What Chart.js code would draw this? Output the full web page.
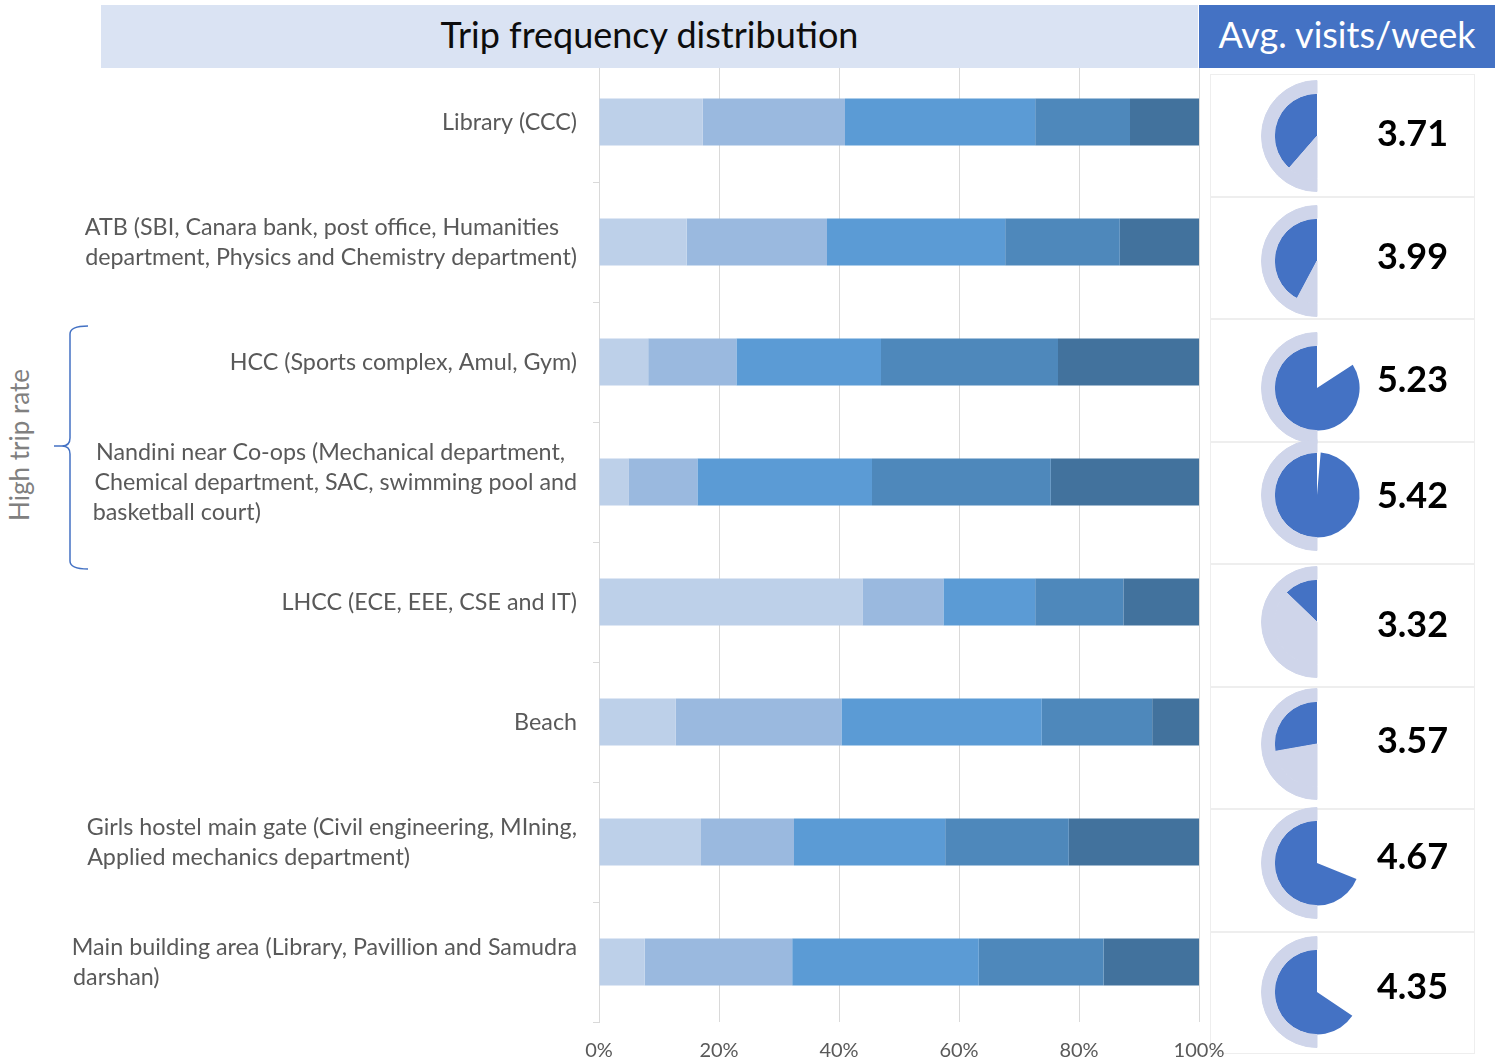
<!DOCTYPE html>
<html>
<head>
<meta charset="utf-8">
<script src="https://cdn.jsdelivr.net/npm/chart.js@4/dist/chart.umd.min.js"></script>
<style>
  html, body { margin:0; padding:0; background:#fff; }
  #page { position:relative; width:1495px; height:1064px; overflow:hidden; background:#fff; font-family: Lato, "Noto Sans", sans-serif; }
  #barCanvas { position:absolute; left:0; top:0; z-index:2; }
  .titleL { position:absolute; z-index:3; left:101px; top:5px; width:1097px; height:63px; background:#DAE3F3; color:#0D0D0D; font-size:36px; line-height:58px; text-align:center; }
  .titleR { position:absolute; z-index:3; left:1199px; top:5px; width:296px; height:63px; background:#4472C4; color:#fff; font-size:36px; line-height:58px; text-align:center; }
  .cell { position:absolute; z-index:1; left:1210px; width:265px; box-sizing:border-box; border:1px solid #EEEEEE; background:#fff; }
  .pie { position:absolute; z-index:3; }
  .num { position:absolute; z-index:3; left:1345px; width:135px; text-align:center; font-weight:bold; font-size:36px; color:#000; line-height:40px; height:40px; }
  .side { position:absolute; left:19px; top:445px; transform:translate(-50%,-50%) rotate(-90deg); color:#808080; font-size:26px; white-space:nowrap; }
  svg.brace { position:absolute; left:0; top:0; z-index:3; }
</style>
</head>
<body>
<div id="page">
  <canvas id="barCanvas" width="1495" height="1064"></canvas>
  <div class="titleL">Trip frequency distribution</div>
  <div class="titleR">Avg. visits/week</div>
  <svg class="brace" width="120" height="1064">
    <path d="M88,326 Q70,326 70,334 L70,438 Q70,446 62,446 L54,446 M62,446 Q70,446 70,454 L70,561 Q70,569 88,569" fill="none" stroke="#4472C4" stroke-width="1.5"/>
  </svg>
  <div class="side">High trip rate</div>
</div>
<script>
// ---------- DATA ----------
const categories = [
  ["Library (CCC)"],
  ["ATB (SBI, Canara bank, post office, Humanities", "department, Physics and Chemistry department)"],
  ["HCC (Sports complex, Amul, Gym)"],
  ["Nandini near Co-ops (Mechanical department,", "Chemical department, SAC, swimming pool and", "basketball court)"],
  ["LHCC (ECE, EEE, CSE and IT)"],
  ["Beach"],
  ["Girls hostel main gate (Civil engineering, MIning,", "Applied mechanics department)"],
  ["Main building area (Library, Pavillion and Samudra", "darshan)"]
];
const freqClass1 = [17.3, 14.6,  8.2,  4.9, 43.9, 12.8, 17.0,  7.6];
const freqClass2 = [23.7, 23.4, 14.7, 11.5, 13.5, 27.6, 15.5, 24.6];
const freqClass3 = [31.7, 29.7, 24.1, 29.1, 15.3, 33.4, 25.2, 31.1];
const freqClass4 = [15.8, 19.1, 29.5, 29.8, 14.7, 18.4, 20.6, 20.8];
const freqClass5 = [11.5, 13.2, 23.5, 24.7, 12.6,  7.8, 21.7, 15.9];
const xTickLabels = ["0%", "20%", "40%", "60%", "80%", "100%"];
const avgVisits = [3.71, 3.99, 5.23, 5.42, 3.32, 3.57, 4.67, 4.35];
// filled pie angle (degrees, counter-clockwise from 12 o'clock)
const pieFillDeg = [139, 152, 303, 355, 46, 100, 248, 236];

// ---------- LAYOUT / STYLE ----------
const segColors = ["#BDD0E9", "#9AB9DF", "#5B9BD5", "#4E88BB", "#42729D"];
const labelFont = { family: "Lato", size: 23.3, lineHeight: "30px" };
const cellTop0 = 74, cellH = 122.5;
const pieCY = [136, 261, 388, 495, 622, 744, 863, 992];
const numCY = [132, 255, 378, 494, 623, 739, 855, 985];
const pieCX = 1317, pieSize = 112;
const LIGHT = "#CFD5EA", DARK = "#4472C4", NONE = "rgba(0,0,0,0)";

// left-aligned multi-line label blocks (pad shorter lines so right-aligned text reads as a left-aligned block)
const mctx = document.createElement("canvas").getContext("2d");
mctx.font = labelFont.size + "px " + labelFont.family;
function padLines(lines) {
  if (lines.length < 2) return lines;
  const widths = lines.map(l => mctx.measureText(l).width);
  const maxW = Math.max(...widths);
  const sp = mctx.measureText(" ").width;
  return lines.map((l, i) => {
    const n = Math.round((maxW - widths[i]) / sp);
    return l + " ".repeat(Math.max(0, n));
  });
}

const series = [freqClass1, freqClass2, freqClass3, freqClass4, freqClass5];
new Chart(document.getElementById("barCanvas"), {
  type: "bar",
  data: {
    labels: categories,
    datasets: series.map((d, i) => ({
      label: "Frequency class " + (i + 1),
      data: d,
      backgroundColor: segColors[i],
      borderWidth: 0,
      categoryPercentage: 1.0,
      barPercentage: 0.39
    }))
  },
  options: {
    indexAxis: "y",
    responsive: false,
    animation: false,
    events: [],
    layout: { padding: { top: 62, right: 296, bottom: 0, left: 0 } },
    plugins: { legend: { display: false }, tooltip: { enabled: false } },
    scales: {
      x: {
        stacked: true, min: 0, max: 100,
        border: { display: false },
        grid: { color: "#D9D9D9", lineWidth: 1, drawTicks: false },
        ticks: {
          stepSize: 20, color: "#595959", padding: 17,
          font: { family: "Lato", size: 20 },
          callback: (v) => xTickLabels[Math.round(v / 20)]
        },
        afterFit: (s) => { s.height = 42; }
      },
      y: {
        stacked: true,
        border: { display: true, color: "#D9D9D9" },
        grid: { offset: true, drawOnChartArea: false, tickLength: 6, color: "#D9D9D9" },
        ticks: {
          color: "#595959", padding: 16, autoSkip: false, font: labelFont,
          callback: function (v, i) { return padLines(categories[i]); }
        },
        afterFit: (s) => { s.width = 599; }
      }
    }
  }
});

// ---------- RIGHT PANEL: pies ----------
const page = document.getElementById("page");
avgVisits.forEach((val, i) => {
  const cell = document.createElement("div");
  cell.className = "cell";
  cell.style.top = (cellTop0 + cellH * i) + "px";
  cell.style.height = cellH + "px";
  page.appendChild(cell);

  const cv = document.createElement("canvas");
  cv.className = "pie";
  cv.width = pieSize; cv.height = pieSize;
  cv.style.left = (pieCX - pieSize / 2) + "px";
  cv.style.top = (pieCY[i] - pieSize / 2) + "px";
  page.appendChild(cv);

  const th = pieFillDeg[i];
  new Chart(cv, {
    type: "pie",
    data: {
      labels: ["a", "b", "c"],
      datasets: [
        { data: [180, 180], backgroundColor: [NONE, LIGHT], borderColor: [NONE, LIGHT], borderWidth: [0, 1], weight: 13, rotation: 0 },
        { data: [th, Math.min(180, 360 - th), Math.max(0, 180 - th)], backgroundColor: [DARK, NONE, LIGHT], borderColor: [DARK, NONE, LIGHT], borderWidth: [0, 0, 1], weight: 43, rotation: -th }
      ]
    },
    options: {
      responsive: false, animation: false, events: [],
      layout: { padding: 0 },
      plugins: { legend: { display: false }, tooltip: { enabled: false } }
    }
  });

  const num = document.createElement("div");
  num.className = "num";
  num.style.top = (numCY[i] - 20) + "px";
  num.textContent = val.toFixed(2);
  page.appendChild(num);
});
</script>
</body>
</html>
